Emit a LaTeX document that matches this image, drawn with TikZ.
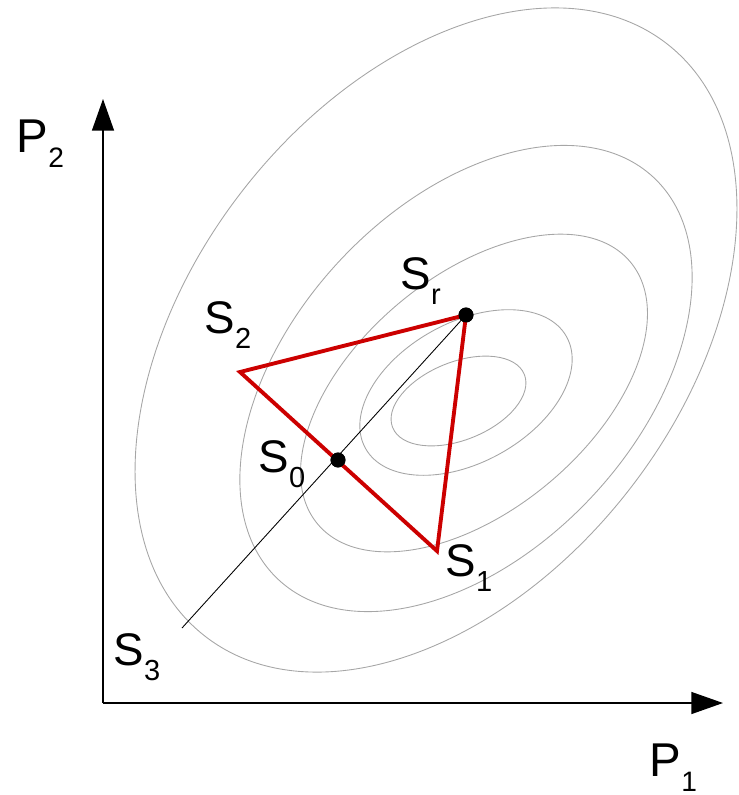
\documentclass[tikz,border=0pt]{standalone}
\usepackage{fontspec}
\setmainfont{Liberation Sans}
\usetikzlibrary{arrows.meta}
\definecolor{simplexred}{HTML}{CC0000}
% lowered index, as in the drawing
\newcommand{\lowsub}[2][16.5]{{\fontsize{#1}{#1}\selectfont\raisebox{-0.55em}{#2}}}

\begin{document}
\begin{tikzpicture}[x=0.02cm,y=-0.02cm,line width=0.8pt,>={Triangle[length=18pt,width=12.5pt]},
  contour/.style={gray!70,line width=0.5pt},
  vtx/.style={circle,fill=black,inner sep=0pt,minimum size=8.5pt},
  lbl/.style={anchor=base west,inner sep=0pt,font=\fontsize{26}{26}\selectfont},
  axlbl/.style={anchor=base west,inner sep=0pt,font=\fontsize{27}{27}\selectfont}]
\useasboundingbox (0,0) rectangle (739,795);
% contour lines (center x/y, radii, tilt)
\foreach \cx/\cy/\ra/\rb/\ang in {436/340/375.6/244.4/52, 466/378.5/275/172.7/47,
    474/393/204/117/40, 466/392.5/115/70/29, 458.5/401/71/39/22}
  \draw[contour,rotate around={\ang:(\cx,\cy)}] (\cx,\cy) ellipse ({\ra} and {\rb});
% axes
\coordinate (O) at (103,703);
\coordinate (P1tip) at (723,703);
\coordinate (P2tip) at (103,99);
\draw[->] (O) -- (P1tip);
\draw[->] (O) -- (P2tip);
\node[axlbl] (p1lbl) at (649,776) {P\lowsub[16]{1}};
\node[axlbl] (p2lbl) at (16,152) {P\lowsub[16]{2}};
% simplex
\coordinate (S1) at (437,551);
\coordinate (S2) at (240,372);
\coordinate (S3) at (182,628);
\node[vtx] (Sr) at (466,315) {};
\node[vtx] (S0) at (338,460) {};
\draw[line width=0.5pt] (Sr.center) -- (S3);
\draw[simplexred,line width=2.2pt] (Sr.center) -- (S1) -- (S2) -- cycle;
\node[vtx] at (Sr) {};
\node[vtx] at (S0) {};
% labels
\node[lbl] (lSr) at (400,289) {S\lowsub{r}};
\node[lbl] (lS2) at (204,333) {S\lowsub{2}};
\node[lbl] (lS0) at (258,472) {S\lowsub{0}};
\node[lbl] (lS1) at (445,576) {S\lowsub{1}};
\node[lbl] (lS3) at (113,665) {S\lowsub{3}};
\end{tikzpicture}
\end{document}
